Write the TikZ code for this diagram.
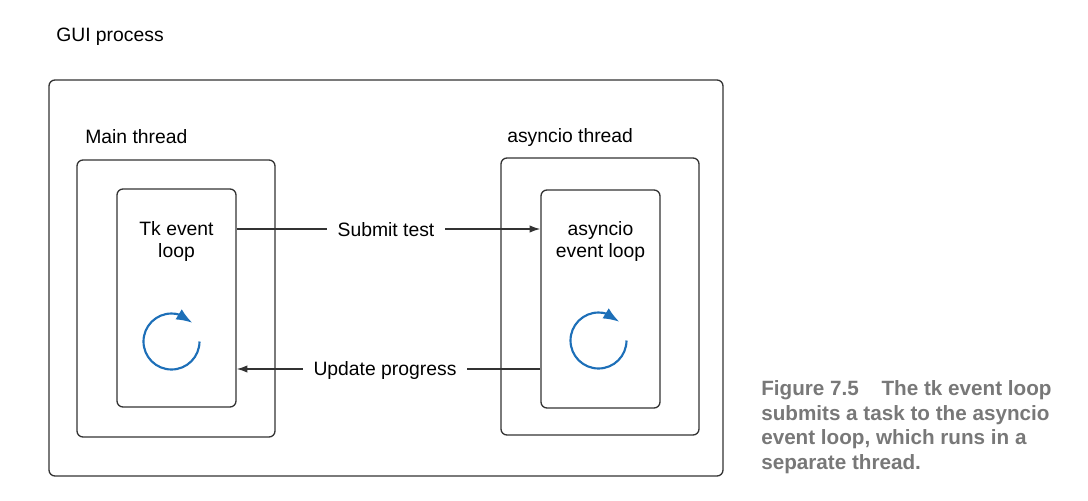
\documentclass[tikz,border=0pt]{standalone}
\usepackage{fontspec}
\setmainfont{Liberation Sans}
\usetikzlibrary{arrows.meta,bending}

\definecolor{loopblue}{RGB}{29,111,184}
\definecolor{capgray}{RGB}{120,120,120}
\definecolor{boxgray}{RGB}{51,51,51}

\begin{document}
\begin{tikzpicture}[x=0.75pt,y=-0.75pt,>={Latex[length=8pt,width=5.5pt]},
    box/.style={draw=boxgray,line width=1pt,rounded corners=4.5pt,inner sep=0pt},
    lbl/.style={font=\fontsize{14.5}{16.5}\selectfont,align=center,inner sep=0pt},
    msg/.style={draw=boxgray,line width=1pt},
    spin/.style={draw=loopblue,line width=1.6pt,-{Latex[length=12pt,width=9pt,flex]}}]
            \useasboundingbox (0,0) rectangle (1088,500);

            % boxes
            \node[box, minimum width=505.5pt, minimum height=297pt]   (gui)   at (386,278)     {};
            \node[box, minimum width=148.5pt, minimum height=207.75pt] (main)  at (176,298.5)   {};
            \node[box, minimum width=148.5pt, minimum height=207.75pt] (athr)  at (600,296.5)   {};
            \node[box, minimum width=89.25pt, minimum height=163.5pt]  (tk)    at (176.5,298)   {};
            \node[box, minimum width=89.25pt, minimum height=163.5pt]  (aloop) at (600.5,299)   {};

            % titles
            \node[lbl, anchor=west] (guit)  at (56,37)   {GUI process};
            \node[lbl, anchor=west] (maint) at (85,137)  {Main thread};
            \node[lbl, anchor=west] (athrt) at (507,137) {asyncio thread};
            \node[lbl] (tkt) at (tk.north |- 0,241)    {Tk event\\loop};
            \node[lbl] (at)  at (aloop.north |- 0,241) {asyncio\\event loop};

            % messages
            \node[lbl, inner xsep=8pt] (submit) at (386,230) {Submit test};
            \node[lbl, inner xsep=8pt] (update) at (385,370) {Update progress};
            \draw[msg] (tk.east |- 0,229) -- (submit.west |- 0,229);
            \draw[msg, ->] (submit.east |- 0,229) -- (aloop.west |- 0,229);
            \draw[msg] (aloop.west |- 0,369) -- (update.east |- 0,369);
            \draw[msg, ->] (update.west |- 0,369) -- (tk.east |- 0,369);

            % event loops
            \coordinate (tkspin) at (171.5,341.5);
            \coordinate (aspin)  at (598.5,340.5);
            \foreach \c in {tkspin, aspin}
                \draw[spin] (\c) ++(28,0) arc[start angle=0, end angle=318, radius=28];

            % caption
            \node[anchor=north west, align=left, inner sep=0pt, text=capgray,
                  font=\fontsize{15.5}{18.6}\selectfont\bfseries] (cap) at (761,380)
                {Figure 7.5\hspace{1.1em}The tk event loop\\
                 submits a task to the asyncio\\
                 event loop, which runs in a\\
                 separate thread.};
        \end{tikzpicture}
\end{document}
